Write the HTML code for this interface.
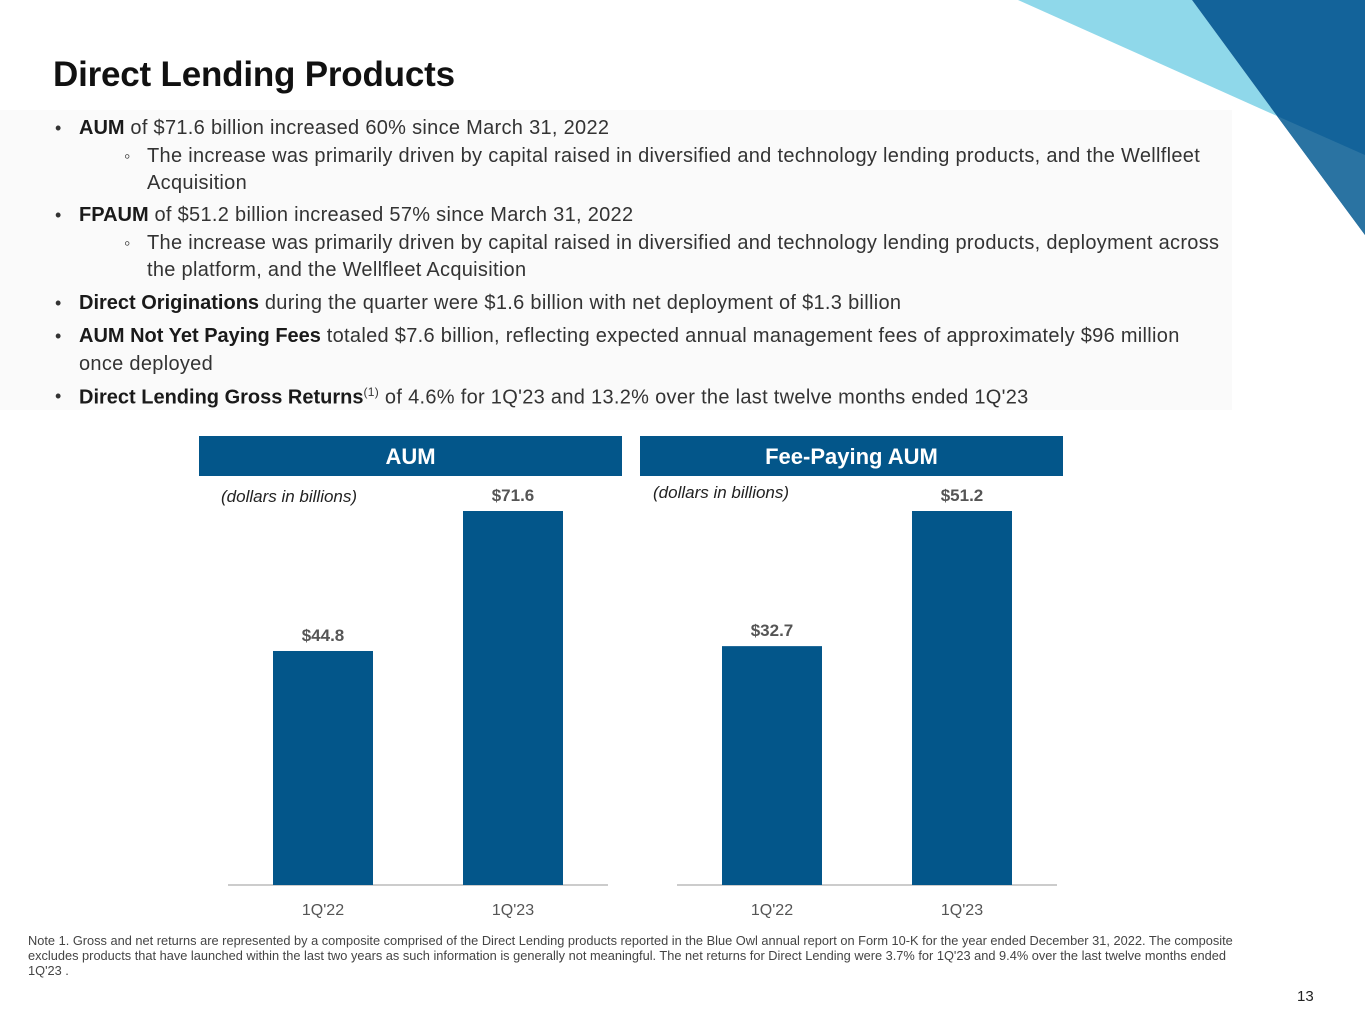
<!DOCTYPE html>
<html><head><meta charset="utf-8"><style>
body{margin:0;width:1365px;height:1024px;position:relative;background:#fff;font-family:"Liberation Sans",sans-serif;overflow:hidden;color:#333}
.abs{position:absolute}
h1{position:absolute;left:53px;top:55px;margin:0;font-size:35px;font-weight:bold;color:#111;letter-spacing:-0.2px}
.b{position:absolute;font-size:20px;color:#333;white-space:nowrap;letter-spacing:0.3px}
.b strong{color:#1a1a1a;letter-spacing:0}
.m{position:absolute;font-size:18px;color:#333}
.hdr{position:absolute;top:436px;height:40px;background:#03568a;color:#fff;font-weight:bold;font-size:22px;text-align:center;line-height:42px}
.note{position:absolute;left:28px;top:933px;width:1230px;font-size:12.8px;line-height:15px;color:#444}
</style></head><body>
<svg class="abs" style="left:0;top:0" width="1365" height="1024">
<rect x="0" y="110" width="1232" height="300" fill="#fafafa"/>
<polygon points="1018,0 1192,0 1277,116" fill="#8fd8ea"/>
<polygon points="1192,0 1365,0 1365,235 1277,116" fill="#13639a"/>
<polygon points="1277,116 1365,155 1365,235" fill="#2a73a2"/>
</svg>
<h1>Direct Lending Products</h1>
<div class="m" style="left:55px;top:118px">•</div>
<div class="b" style="left:79px;top:117px"><strong>AUM</strong> of $71.6 billion increased 60% since March 31, 2022</div>
<div class="m" style="left:124px;top:146px">◦</div>
<div class="b" style="left:147px;top:145px">The increase was primarily driven by capital raised in diversified and technology lending products, and the Wellfleet</div>
<div class="b" style="left:147px;top:172px">Acquisition</div>
<div class="m" style="left:55px;top:205px">•</div>
<div class="b" style="left:79px;top:204px"><strong>FPAUM</strong> of $51.2 billion increased 57% since March 31, 2022</div>
<div class="m" style="left:124px;top:233px">◦</div>
<div class="b" style="left:147px;top:232px">The increase was primarily driven by capital raised in diversified and technology lending products, deployment across</div>
<div class="b" style="left:147px;top:259px">the platform, and the Wellfleet Acquisition</div>
<div class="m" style="left:55px;top:293px">•</div>
<div class="b" style="left:79px;top:292px"><strong>Direct Originations</strong> during the quarter were $1.6 billion with net deployment of $1.3 billion</div>
<div class="m" style="left:55px;top:326px">•</div>
<div class="b" style="left:79px;top:325px"><strong>AUM Not Yet Paying Fees</strong> totaled $7.6 billion, reflecting expected annual management fees of approximately $96 million</div>
<div class="b" style="left:79px;top:353px">once deployed</div>
<div class="m" style="left:55px;top:386px">•</div>
<div class="b" style="left:79px;top:385px"><strong>Direct Lending Gross Returns</strong><sup style="font-size:12px">(1)</sup> of 4.6% for 1Q'23 and 13.2% over the last twelve months ended 1Q'23</div>

<div class="hdr" style="left:199px;width:423px">AUM</div>
<div class="hdr" style="left:640px;width:423px">Fee-Paying AUM</div>
<div class="abs" style="left:221px;top:487px;font-size:17px;font-style:italic;color:#222">(dollars in billions)</div>
<div class="abs" style="left:653px;top:483px;font-size:17px;font-style:italic;color:#222">(dollars in billions)</div>

<svg id="charts" class="abs" style="left:0;top:0" width="1365" height="1024"></svg>

<div class="note">Note 1. Gross and net returns are represented by a composite comprised of the Direct Lending products reported in the Blue Owl annual report on Form 10-K for the year ended December 31, 2022. The composite excludes products that have launched within the last two years as such information is generally not meaningful. The net returns for Direct Lending were 3.7% for 1Q'23 and 9.4% over the last twelve months ended 1Q'23 .</div>
<div class="abs" style="left:1297px;top:988px;font-size:15px;color:#222">13</div>

<script>
const categories = ["1Q'22", "1Q'23"];
const aumValues = [44.8, 71.6];
const fpaumValues = [32.7, 51.2];
const aumLabels = ["$44.8", "$71.6"];
const fpaumLabels = ["$32.7", "$51.2"];

const NS = "http://www.w3.org/2000/svg";
const svg = document.getElementById('charts');
function mk(tag, attrs){const e=document.createElementNS(NS,tag);for(const k in attrs)e.setAttribute(k,attrs[k]);svg.appendChild(e);return e;}
function drawChart(name, x0, x1, values, labels){
  const base = 885, maxH = 374;
  const maxV = Math.max(...values);
  const y = v => base - v / maxV * maxH;
  const bw = 100, slot = (x1 - x0) / categories.length;
  const ax = mk('line',{x1:x0,x2:x1,y1:base,y2:base,stroke:'#bbb','stroke-width':1.5});
  
  
  categories.forEach((c,i)=>{
    const cx = x0 + slot*(i+0.5);
    const r = mk('rect',{x:cx-bw/2,y:y(values[i]),width:bw,height:base-y(values[i]),fill:'#03568a'});
    
    
    const t = mk('text',{x:cx,y:y(values[i])-10,'text-anchor':'middle','font-size':17,'font-weight':'bold',fill:'#555','font-family':'Liberation Sans, sans-serif'});
    t.textContent = labels[i];
    
    
    const tl = mk('text',{x:cx,y:915,'text-anchor':'middle','font-size':16,fill:'#555','font-family':'Liberation Sans, sans-serif'});
    tl.textContent = c;
    
    
  });
}
drawChart('aum', 228, 608, aumValues, aumLabels);
drawChart('fpaum', 677, 1057, fpaumValues, fpaumLabels);
</script>
</body></html>
